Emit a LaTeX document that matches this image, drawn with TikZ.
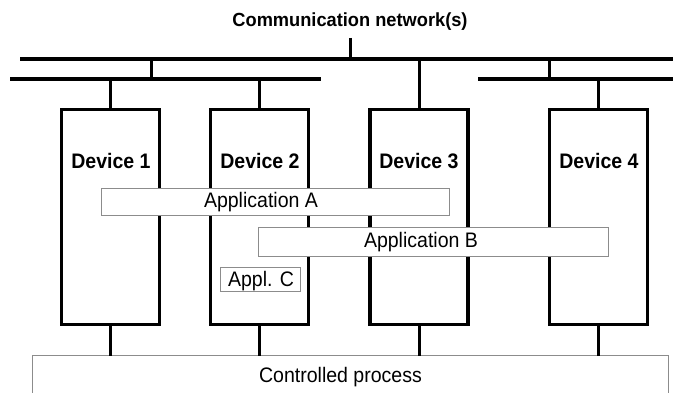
\documentclass[tikz,border=0pt]{standalone}
\usepackage{fontspec}
\setmainfont{Liberation Sans}
\newfontfamily\condfont[FakeStretch=0.93]{Liberation Sans}
\newfontfamily\titlefont[FakeStretch=0.96]{Liberation Sans}
\begin{document}
\begin{tikzpicture}[x=1pt,y=-1pt,
  bus/.style={line width=4pt},
  stub/.style={line width=3pt},
  devbox/.style={draw, line width=3.2pt, minimum width=98pt, minimum height=215pt, inner sep=0pt},
  appbox/.style={draw=black!45, fill=white, line width=0.8pt, inner sep=0pt},
  txt/.style={font=\fontsize{21}{24}\condfont\selectfont, inner sep=0pt, anchor=base},
  devlabel/.style={font=\fontsize{21}{24}\condfont\bfseries\selectfont, inner sep=0pt, anchor=base},
]
\useasboundingbox (0,0) rectangle (673,393);
% title
\node[font=\fontsize{19}{22}\titlefont\bfseries\selectfont, inner sep=0pt, anchor=base] (title) at (350,26.5) {Communication network(s)};
% buses
\coordinate (tbL) at (20,59);
\coordinate (tbR) at (673,59);
\coordinate (slL) at (10,79);
\coordinate (slR) at (321,79);
\coordinate (srL) at (478,79);
\coordinate (srR) at (673,79);
\draw[bus] (tbL) -- (tbR);
\draw[bus] (slL) -- (slR);
\draw[bus] (srL) -- (srR);
\coordinate (ntop) at (350,38);
\coordinate (nbot) at (350,59);
\draw[stub] (ntop) -- (nbot);
\coordinate (c1a) at (151,59); \coordinate (c1b) at (151,79);
\draw[stub] (c1a) -- (c1b);
\coordinate (c2a) at (549,59); \coordinate (c2b) at (549,79);
\draw[stub] (c2a) -- (c2b);
% devices
\node[devbox] (d1) at (110.5,217) {};
\node[devbox] (d2) at (259.5,217) {};
\node[devbox] (d3) at (419,217) {};
\node[devbox] (d4) at (598.5,217) {};
\node[devlabel] (l1) at (111,168.5) {Device 1};
\node[devlabel] (l2) at (260,168.5) {Device 2};
\node[devlabel] (l3) at (419,168.5) {Device 3};
\node[devlabel] (l4) at (599,168.5) {Device 4};
% device stubs to network
\coordinate (n1) at (d1.north |- slL);
\coordinate (n2) at (d2.north |- slL);
\coordinate (n3) at (d3.north |- tbL);
\coordinate (n4) at (d4.north |- srL);
\draw[stub] (n1) -- (d1.north);
\draw[stub] (n2) -- (d2.north);
\draw[stub] (n3) -- (d3.north);
\draw[stub] (n4) -- (d4.north);
% controlled process
\draw[black!45, line width=0.8pt] (32,400) -- (32,355.5) -- (668,355.5) -- (668,400);
\node[txt] (proc) at (340.5,382) {Controlled process};
\coordinate (q1) at (110.5,355.5);
\coordinate (q2) at (259.5,355.5);
\coordinate (q3) at (419,355.5);
\coordinate (q4) at (598.5,355.5);
\draw[stub] (d1.south) -- (q1);
\draw[stub] (d2.south) -- (q2);
\draw[stub] (d3.south) -- (q3);
\draw[stub] (d4.south) -- (q4);
% applications
\node[appbox, minimum width=348pt, minimum height=27pt] (appA) at (275.5,202) {};
\node[txt] (appAt) at (261,207.5) {Application A};
\node[appbox, minimum width=350pt, minimum height=29pt] (appB) at (433.5,241.5) {};
\node[txt] (appBt) at (421,248) {Application B};
\node[appbox, minimum width=80pt, minimum height=24pt] (appC) at (260.5,279) {};
\node[txt] (appCt) at (261,287) {Appl. C};
\end{tikzpicture}
\end{document}
